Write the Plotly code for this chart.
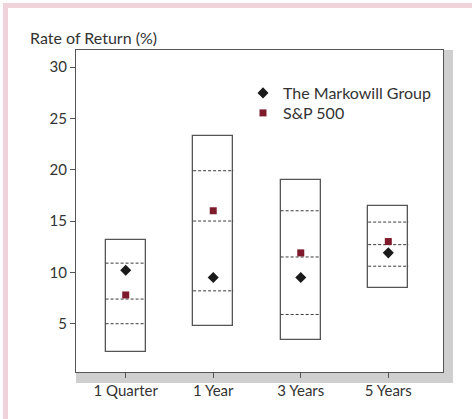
import plotly.graph_objects as go

# Return ranges by holding period
categories = ["1 Quarter", "1 Year", "3 Years", "5 Years"]
high = [13.2, 23.3, 19.0, 16.5]
upper_q = [10.9, 19.9, 16.0, 14.9]
median = [7.4, 15.0, 11.5, 12.7]
lower_q = [5.0, 8.2, 5.9, 10.6]
low = [2.2, 4.8, 3.4, 8.5]

markowill = [10.2, 9.5, 9.5, 11.9]
sp500 = [7.8, 16.0, 11.9, 13.0]

y_ticks = [5, 10, 15, 20, 25, 30]

FONT = "Lato, 'Open Sans', sans-serif"
TEXT = "#333333"
EDGE = "#555555"
BOX_W = 0.46

xpos = list(range(1, len(categories) + 1))

fig = go.Figure()

# Range boxes: from low to high
fig.add_trace(go.Bar(
    x=xpos,
    base=low,
    y=[h - l for h, l in zip(high, low)],
    width=BOX_W,
    marker=dict(color="white", line=dict(color=EDGE, width=1.3)),
    showlegend=False,
    hoverinfo="skip",
))

# Dashed quartile / median lines inside each box
lx, ly = [], []
for i, x in enumerate(xpos):
    for v in (upper_q[i], median[i], lower_q[i]):
        lx += [x - BOX_W / 2, x + BOX_W / 2, None]
        ly += [v, v, None]
fig.add_trace(go.Scatter(
    x=lx, y=ly, mode="lines",
    line=dict(color="#3a3a3a", width=1, dash="3px,2px"),
    showlegend=False, hoverinfo="skip",
))

fig.add_trace(go.Scatter(
    x=xpos, y=markowill, mode="markers", name="The Markowill Group",
    marker=dict(symbol="diamond", size=8.5, color="#1a1a1a"),
    legend="legend",
))
fig.add_trace(go.Scatter(
    x=xpos, y=sp500, mode="markers", name="S&P 500",
    marker=dict(symbol="square", size=7, color="#7d1a2c"),
    legend="legend2",
))

L, R, T, B = 76, 29, 50, 47
W, H = 472, 419
pw, ph = W - L - R, H - T - B


def px_x(px):
    return (px - L) / pw


def px_y(px):
    return (H - B - px) / ph


shapes = [
    # drop shadow to the right of and below the plot frame
    dict(type="rect", xref="paper", yref="paper", layer="below",
         x0=1, x1=1 + 10 / pw, y0=-11 / ph, y1=1,
         fillcolor="#cfcfcf", line=dict(width=0)),
    dict(type="rect", xref="paper", yref="paper", layer="below",
         x0=0, x1=1 + 10 / pw, y0=-11 / ph, y1=0,
         fillcolor="#cfcfcf", line=dict(width=0)),
    # pink page frame
    dict(type="line", xref="paper", yref="paper",
         x0=px_x(5.5), x1=px_x(5.5), y0=-0.3, y1=px_y(3),
         line=dict(color="#efd2da", width=5)),
    dict(type="line", xref="paper", yref="paper",
         x0=px_x(3), x1=1.3, y0=px_y(5.5), y1=px_y(5.5),
         line=dict(color="#efd2da", width=5)),
]

legend_style = dict(xanchor="left", yanchor="middle",
                    bgcolor="rgba(0,0,0,0)", font=dict(size=16, color=TEXT))

fig.update_layout(
    width=W, height=H,
    margin=dict(l=L, r=R, t=T, b=B),
    paper_bgcolor="white", plot_bgcolor="white",
    font=dict(family=FONT, size=15, color=TEXT),
    showlegend=True,
    legend=dict(x=px_x(243), y=px_y(93), **legend_style),
    legend2=dict(x=px_x(243), y=px_y(113), **legend_style),
    shapes=shapes,
    annotations=[dict(
        text="Rate of Return (%)", xref="paper", yref="paper",
        x=px_x(28), y=px_y(38), xanchor="left", yanchor="middle",
        showarrow=False, font=dict(size=16, color=TEXT),
    )],
    bargap=0,
)

fig.update_xaxes(
    range=[0.432, 4.625], tickvals=xpos, ticktext=categories,
    showline=True, linecolor=EDGE, linewidth=1.3, mirror=True,
    ticks="outside", ticklen=5, tickcolor=EDGE, tickwidth=1,
    showgrid=False, zeroline=False, tickfont=dict(size=15, color=TEXT),
)
fig.update_yaxes(
    range=[0.296, 31.66], tickvals=y_ticks,
    showline=True, linecolor=EDGE, linewidth=1.3, mirror=True,
    ticks="outside", ticklen=5, tickcolor=EDGE, tickwidth=1,
    showgrid=False, zeroline=False, tickfont=dict(size=15, color=TEXT),
)

fig.write_html("out.html")
